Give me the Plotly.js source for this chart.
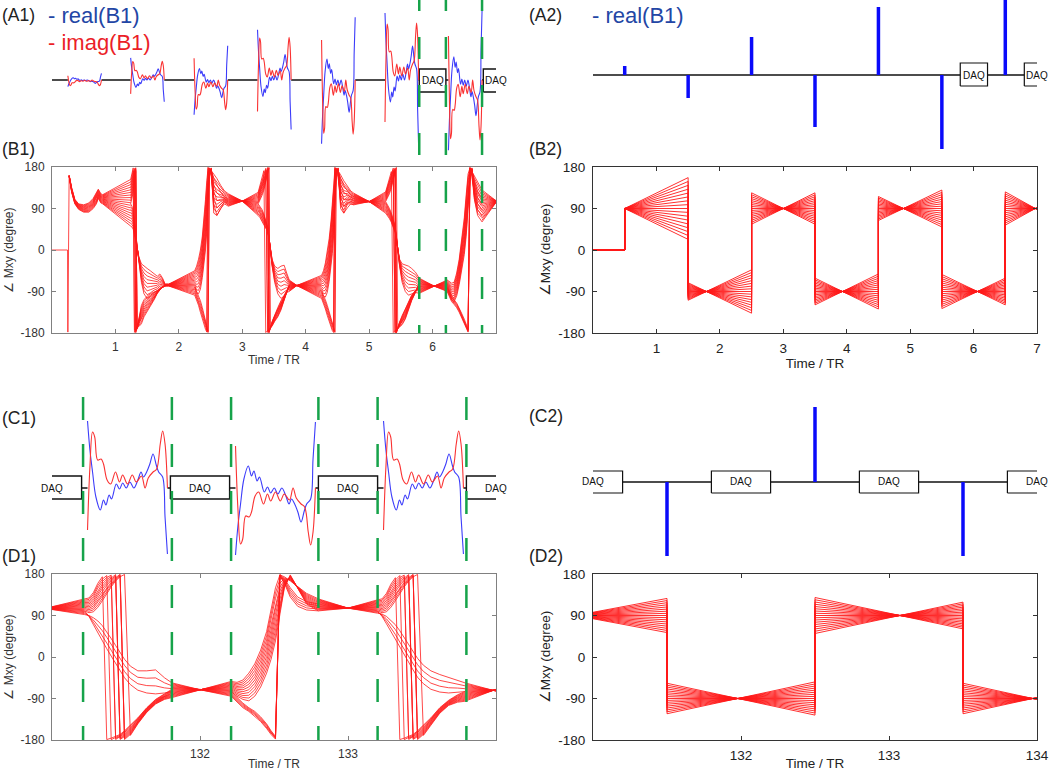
<!DOCTYPE html>
<html><head><meta charset="utf-8">
<script src="https://cdn.plot.ly/plotly-3.0.1.min.js"></script>
<style>html,body{margin:0;padding:0;background:#fff}#chart{width:1050px;height:771px}</style>
</head><body><div id="chart"></div><script>
// ===================== DATA =====================
// RF pulse shape (real / imag) read from the C1 pulse at 131.5 TR; u = fraction of pulse, v = amplitude
const tplBlueU = [0, 0.03, 0.063, 0.105, 0.16, 0.2, 0.23, 0.27, 0.30, 0.36, 0.40, 0.44, 0.485, 0.53, 0.58, 0.63, 0.67, 0.70, 0.74, 0.78, 0.82, 0.86, 0.89, 0.94, 0.97, 1.0];
const tplBlueV = [67, 38, 16, -9, -22, -12, -17, -7, -11, 4, -1, 5, 0, 6, 0, 8, 16, 11, 16, 24, 34, 23, 16, 11, -29, -66];
const tplRedU  = [0, 0.03, 0.063, 0.09, 0.127, 0.17, 0.2, 0.245, 0.29, 0.35, 0.40, 0.44, 0.5, 0.56, 0.61, 0.675, 0.72, 0.76, 0.82, 0.865, 0.91, 0.94, 0.97, 1.0];
const tplRedV  = [-42, 21, 56, 51, 28, 29, 24, 8, 4, 16, 6, 13, 4, 13, 6, 12, 0, 10, 16, 19, 44, 57, 44, 0];

// (A1) pulses
const a1PulseStart = [0.25, 1.24, 2.24, 3.24, 4.25, 5.25, 6.25];
const a1PulseWidth = 0.53;
const a1PulseAmp = [-0.1, 0.33, -0.52, 0.75, -0.95, 1.0, -1.05];
const a1DaqLeft = [5.79, 6.80];
const a1DaqRight = [6.21, 7.20];
const a1Dashes = [5.79, 6.21, 6.78];
// (A2) ideal pulses
const a2PulseTime = [0.5, 1.5, 2.5, 3.5, 4.5, 5.5, 6.5];
const a2PulseAmp = [9, -23, 38, -52, 68, -74, 85];
const a2DaqLeft = [5.79, 6.80];
const a2DaqRight = [6.22, 7.20];
// (C1) pulses
const c1PulseStart = [131.24, 132.24, 133.24];
const c1PulseWidth = 0.54;
const c1PulseAmp = [1, -1, 1];
const c1DaqLeft = [130.80, 131.80, 132.80, 133.80];
const c1DaqRight = [131.20, 132.20, 133.20, 134.20];
const c1Dashes = [131.21, 131.81, 132.21, 132.80, 133.20, 133.80];
// (C2) ideal pulses
const c2PulseTime = [131.5, 132.5, 133.5];
const c2PulseAmp = [-74, 75, -74];
const c2DaqLeft = [130.80, 131.80, 132.80, 133.80];
const c2DaqRight = [131.20, 132.20, 133.20, 134.20];

// isochromat offsets across each fan (-1 .. 1)
const fanK = [-1, -0.875, -0.75, -0.625, -0.5, -0.375, -0.25, -0.125, 0, 0.125, 0.25, 0.375, 0.5, 0.625, 0.75, 0.875, 1];

// (B2) ideal phase: segments between pulses
const b2Start  = [0.5, 1.5, 2.5, 3.5, 4.5, 5.5, 6.5];
const b2End    = [1.5, 2.5, 3.5, 4.5, 5.5, 6.5, 7.0];
const b2Center = [90, -90, 90, -90, 90, -90, 90];
const b2SpreadIn  = [0, 19, -34, 29, -26, 37, -36];
const b2SpreadOut = [67, -47, 34, -38, 40, -29, 2];
// (D2) ideal phase
const d2Start  = [131.0, 131.5, 132.5, 133.5];
const d2End    = [131.5, 132.5, 133.5, 134.0];
const d2Center = [90, -90, 90, -90];
const d2SpreadIn  = [7, 33, -39, 33];
const d2SpreadOut = [37, -36, 29, -2];

// (B1) simulated phase: bundles of lines between a low and a high envelope (unwrapped degrees)
const b1T0 = [0, 0.245, 0.25, 0.27];
const b1Lo0 = [0, 0, -178, -200];
const b1Hi0 = [0, 0, -178, -200];
const b1T1 = [0.27, 0.31, 0.36, 0.42, 0.50, 0.58, 0.65, 0.70, 0.73, 0.77, 0.80];
const b1Lo1 = [160, 125, 100, 88, 82, 82, 90, 100, 112, 102, 100];
const b1Hi1 = [162, 135, 110, 100, 98, 102, 112, 125, 132, 122, 120];
const b1T2 = [0.80, 1.24];
const b1Lo2 = [100, 52];
const b1Hi2 = [120, 153];
const b1T3 = [1.24, 1.26, 1.28, 1.30, 1.32, 1.34, 1.37, 1.41, 1.45, 1.50, 1.55, 1.61, 1.66, 1.70, 1.74, 1.79];
const b1Lo3 = [52, 50, 45, 35, 20, 5, -15, -30, -35, -40, -45, -52, -57, -52, -60, -76];
const b1Hi3 = [100, 95, 85, 65, 40, 10, -30, -70, -95, -105, -100, -92, -88, -82, -80, -78];
const b1Lo4 = [100, 110, 125, 145, 170, 190, 215, 240, 252, 260, 265, 268, 272, 276, 279, 282];
const b1Hi4 = [153, 165, 178, 186, 189, 191, 194, 200, 215, 226, 237, 252, 266, 274, 280, 284];
const b1T5 = [1.79, 1.84, 2.25];
const b1Lo5 = [-78, -78, -98];
const b1Hi5 = [-74, -74, -45];
const b1T6 = [2.25, 2.28, 2.31, 2.34, 2.37, 2.40, 2.42, 2.44, 2.46, 2.48, 2.51, 2.55, 2.60, 2.66, 2.72, 2.78];
const b1Lo6 = [-80, -92, -95, -85, -60, -30, 0, 40, 100, 165, 178, 80, 75, 90, 100, 95];
const b1Hi6 = [-45, -35, -20, 0, 30, 70, 110, 150, 176, 178, 172, 165, 155, 140, 128, 122];
const b1Lo7 = [-98, -108, -120, -135, -150, -165, -172, -178, -182, -186, -200, -260, -285, -270, -255, -262];
const b1Hi7 = [-80, -90, -100, -110, -125, -140, -152, -165, -176, -183, -190, -205, -220, -235, -245, -250];
const b1T8 = [2.78, 3.0, 3.25];
const b1Lo8 = [95, 106, 125];
const b1Hi8 = [122, 106, 75];
const b1T9 = [3.25, 3.28, 3.31, 3.34, 3.37, 3.40, 3.42, 3.44, 3.47, 3.51, 3.56, 3.61, 3.66, 3.70, 3.74];
const b1Lo9 = [100, 108, 118, 130, 145, 165, 178, 190, 205, 220, 235, 250, 262, 272, 278];
const b1Hi9 = [125, 140, 158, 172, 181, 186, 188, 190, 195, 205, 215, 230, 250, 268, 285];
const b1Lo10 = [75, 70, 62, 55, 48, 40, 25, 5, -20, -35, -40, -35, -33, -50, -65];
const b1Hi10 = [100, 95, 88, 78, 65, 50, 30, 5, -35, -70, -95, -105, -100, -92, -90];
const b1T11 = [3.74, 3.86, 4.25];
const b1Lo11 = [-90, -77, -105];
const b1Hi11 = [-65, -77, -55];
const b1T12 = [4.25, 4.28, 4.31, 4.34, 4.37, 4.40, 4.42, 4.44, 4.46, 4.48, 4.51, 4.55, 4.60, 4.66, 4.71, 4.76];
const b1Lo12 = [-90, -100, -102, -92, -68, -38, -8, 32, 92, 160, 178, 90, 80, 100, 100, 98];
const b1Hi12 = [-55, -45, -28, -5, 25, 65, 105, 148, 175, 178, 172, 163, 150, 138, 128, 123];
const b1Lo13 = [-105, -115, -128, -142, -156, -168, -175, -179, -184, -188, -202, -255, -280, -268, -260, -262];
const b1Hi13 = [-90, -98, -108, -120, -134, -148, -158, -168, -177, -183, -190, -205, -220, -232, -240, -245];
const b1T14 = [4.76, 5.0, 5.26];
const b1Lo14 = [98, 105, 126];
const b1Hi14 = [123, 105, 80];
const b1T15 = [5.26, 5.29, 5.32, 5.35, 5.38, 5.41, 5.43, 5.45, 5.48, 5.52, 5.57, 5.62, 5.67, 5.73, 5.79];
const b1Lo15 = [105, 112, 122, 135, 150, 168, 179, 192, 205, 218, 232, 248, 262, 272, 275];
const b1Hi15 = [126, 140, 156, 170, 181, 186, 188, 189, 192, 198, 210, 230, 250, 268, 290];
const b1Lo16 = [80, 75, 68, 60, 50, 38, 20, 0, -20, -30, -32, -35, -40, -48, -61];
const b1Hi16 = [105, 98, 90, 80, 68, 52, 30, 5, -35, -70, -90, -98, -95, -92, -94];
const b1T17 = [5.79, 6.02, 6.23];
const b1Lo17 = [-94, -78, -65];
const b1Hi17 = [-61, -78, -90];
const b1T18 = [6.23, 6.26, 6.30, 6.34, 6.38, 6.42, 6.46, 6.50, 6.53, 6.56, 6.59, 6.62, 6.66, 6.71, 6.78];
const b1Lo18 = [-82, -95, -108, -112, -100, -75, -45, -10, 30, 90, 150, 178, 110, 80, 70];
const b1Hi18 = [-65, -68, -72, -70, -50, -20, 20, 70, 120, 165, 178, 170, 160, 148, 130];
const b1Lo19 = [-90, -100, -112, -118, -125, -135, -148, -160, -170, -178, -183, -200, -250, -285, -299];
const b1Hi19 = [-82, -90, -100, -108, -115, -125, -138, -150, -162, -172, -181, -190, -210, -235, -250];
const b1T20 = [6.78, 7.0];
const b1Lo20 = [61, 103];
const b1Hi20 = [130, 107];
const b1Count = [1, 12, 19, 9, 10, 19, 11, 5, 19, 10, 9, 19, 11, 5, 19, 10, 9, 19, 11, 5, 19];

// (D1) simulated phase
const d1T0 = [131.0, 131.22];
const d1Lo0 = [103, 92];
const d1Hi0 = [109, 126];
const d1T1 = [131.22, 131.25, 131.28, 131.31, 131.34, 131.37, 131.40, 131.43, 131.46, 131.49, 131.53, 131.58, 131.64, 131.70, 131.76, 131.81];
const d1Lo1 = [100, 96, 98, 108, 122, 138, 152, 165, 174, 179, 190, 215, 240, 258, 268, 272];
const d1Hi1 = [126, 128, 140, 160, 174, 181, 184, 188, 192, 200, 212, 228, 250, 268, 280, 290];
const d1Lo2 = [92, 90, 85, 78, 68, 55, 40, 25, 10, -5, -20, -30, -30, -28, -45, -56];
const d1Hi2 = [100, 88, 70, 52, 35, 18, 2, -14, -30, -45, -60, -72, -78, -80, -78, -75];
const d1T3 = [131.81, 132.0, 132.21];
const d1Lo3 = [-88, -71, -53];
const d1Hi3 = [-56, -71, -85];
const d1T4 = [132.21, 132.25, 132.29, 132.33, 132.37, 132.41, 132.45, 132.48, 132.51, 132.54, 132.57, 132.61, 132.66, 132.72, 132.80];
const d1Lo4 = [-75, -85, -92, -95, -85, -65, -35, -5, 35, 90, 150, 178, 150, 115, 100];
const d1Hi4 = [-53, -55, -50, -35, -15, 15, 55, 100, 150, 178, 174, 165, 152, 138, 126];
const d1Lo5 = [-85, -98, -110, -118, -128, -140, -155, -168, -178, -185, -200, -230, -250, -258, -260];
const d1Hi5 = [-75, -88, -100, -110, -118, -130, -145, -160, -172, -181, -190, -210, -230, -240, -245];
const d1T6 = [132.80, 133.0, 133.2];
const d1Lo6 = [100, 106, 124];
const d1Hi6 = [126, 106, 95];
const d1T7 = [133.20, 133.23, 133.26, 133.29, 133.32, 133.35, 133.38, 133.41, 133.44, 133.47, 133.51, 133.56, 133.62, 133.68, 133.74, 133.79];
const d1Lo7 = [100, 96, 98, 108, 122, 138, 152, 165, 174, 179, 190, 212, 238, 255, 262, 264];
const d1Hi7 = [124, 126, 138, 158, 172, 181, 184, 188, 192, 200, 212, 228, 250, 266, 278, 285];
const d1Lo8 = [95, 93, 88, 80, 70, 57, 42, 27, 12, -3, -18, -30, -38, -44, -50, -56];
const d1Hi8 = [100, 88, 72, 55, 38, 20, 4, -12, -28, -44, -58, -70, -76, -78, -76, -75];
const d1T9 = [133.79, 134.0];
const d1Lo9 = [-96, -70];
const d1Hi9 = [-56, -74];
const d1Count = [17, 11, 4, 17, 11, 5, 17, 11, 4, 17];

const phaseTicks = [-180, -90, 0, 90, 180];
const b1XTicks = [1, 2, 3, 4, 5, 6];
const b2XTicks = [1, 2, 3, 4, 5, 6, 7];
const d1XTicks = [132, 133];
const d2XTicks = [132, 133, 134];

// ===================== BUILD =====================
const W = 1050, H = 771;
const FONT = '"Liberation Sans", Arial, Helvetica, sans-serif';
const RED = 'rgb(255,25,25)', WAVE_BLUE = 'rgb(60,60,250)', WAVE_RED = 'rgb(250,50,50)';
const BAR_BLUE = 'rgb(10,10,250)', GREEN = 'rgb(22,163,74)';
const px = p => p / W, py = p => 1 - p / H;

function wrap(v) { return ((v + 180) % 360 + 360) % 360 - 180; }

function bundles(groups) {
  const X = [], Y = [];
  groups.forEach(([t, lo, hi, n]) => {
    for (let j = 0; j < n; j++) {
      const f = n === 1 ? 0 : j / (n - 1);
      for (let i = 0; i < t.length; i++) { X.push(t[i]); Y.push(wrap(lo[i] + (hi[i] - lo[i]) * f)); }
      X.push(null); Y.push(null);
    }
  });
  return { X, Y };
}

function ideal(flatFrom, flatPhase, s, e, c, sIn, sOut) {
  const X = [], Y = [];
  fanK.forEach(k => {
    if (flatFrom !== null) { X.push(flatFrom, s[0]); Y.push(flatPhase, flatPhase); }
    for (let i = 0; i < s.length; i++) { X.push(s[i], e[i]); Y.push(c[i] + k * sIn[i], c[i] + k * sOut[i]); }
    X.push(null); Y.push(null);
  });
  return { X, Y };
}

function waves(starts, width, amps, u, v) {
  const X = [], Y = [];
  starts.forEach((s, p) => {
    for (let i = 0; i < u.length; i++) { X.push(s + u[i] * width); Y.push(v[i] * amps[p]); }
    X.push(null); Y.push(null);
  });
  return { X, Y };
}

function baseline(lo, hi, occ) {
  const X = [], Y = [];
  let cur = lo;
  occ.slice().sort((a, b) => a[0] - b[0]).forEach(([a, b]) => {
    if (a > cur) { X.push(cur, a, null); Y.push(0, 0, null); }
    cur = Math.max(cur, b);
  });
  if (cur < hi) { X.push(cur, hi); Y.push(0, 0); }
  return { X, Y };
}

function boxes(left, right, top, bot) {
  const X = [], Y = [];
  left.forEach((l, i) => {
    const r = right[i];
    X.push(l, l, r, r, l, null); Y.push(bot, top, top, bot, bot, null);
  });
  return { X, Y };
}

function bars(t, a) {
  const X = [], Y = [];
  t.forEach((ti, i) => { X.push(ti, ti, null); Y.push(0, a[i], null); });
  return { X, Y };
}

function lineTrace(d, xa, ya, color, width, shape) {
  return { type: 'scatter', mode: 'lines', x: d.X, y: d.Y, xaxis: xa, yaxis: ya,
    line: { color: color, width: width, shape: shape || 'linear' }, hoverinfo: 'skip', connectgaps: false };
}

const b1 = bundles([
  [b1T0, b1Lo0, b1Hi0, b1Count[0]], [b1T1, b1Lo1, b1Hi1, b1Count[1]], [b1T2, b1Lo2, b1Hi2, b1Count[2]],
  [b1T3, b1Lo3, b1Hi3, b1Count[3]], [b1T3, b1Lo4, b1Hi4, b1Count[4]], [b1T5, b1Lo5, b1Hi5, b1Count[5]],
  [b1T6, b1Lo6, b1Hi6, b1Count[6]], [b1T6, b1Lo7, b1Hi7, b1Count[7]], [b1T8, b1Lo8, b1Hi8, b1Count[8]],
  [b1T9, b1Lo9, b1Hi9, b1Count[9]], [b1T9, b1Lo10, b1Hi10, b1Count[10]], [b1T11, b1Lo11, b1Hi11, b1Count[11]],
  [b1T12, b1Lo12, b1Hi12, b1Count[12]], [b1T12, b1Lo13, b1Hi13, b1Count[13]], [b1T14, b1Lo14, b1Hi14, b1Count[14]],
  [b1T15, b1Lo15, b1Hi15, b1Count[15]], [b1T15, b1Lo16, b1Hi16, b1Count[16]], [b1T17, b1Lo17, b1Hi17, b1Count[17]],
  [b1T18, b1Lo18, b1Hi18, b1Count[18]], [b1T18, b1Lo19, b1Hi19, b1Count[19]], [b1T20, b1Lo20, b1Hi20, b1Count[20]]
]);
const d1 = bundles([
  [d1T0, d1Lo0, d1Hi0, d1Count[0]], [d1T1, d1Lo1, d1Hi1, d1Count[1]], [d1T1, d1Lo2, d1Hi2, d1Count[2]],
  [d1T3, d1Lo3, d1Hi3, d1Count[3]], [d1T4, d1Lo4, d1Hi4, d1Count[4]], [d1T4, d1Lo5, d1Hi5, d1Count[5]],
  [d1T6, d1Lo6, d1Hi6, d1Count[6]], [d1T7, d1Lo7, d1Hi7, d1Count[7]], [d1T7, d1Lo8, d1Hi8, d1Count[8]],
  [d1T9, d1Lo9, d1Hi9, d1Count[9]]
]);
const b2 = ideal(0, 0, b2Start, b2End, b2Center, b2SpreadIn, b2SpreadOut);
const d2 = ideal(null, 0, d2Start, d2End, d2Center, d2SpreadIn, d2SpreadOut);

const a1Occ = a1PulseStart.map(s => [s, s + a1PulseWidth]).concat(a1DaqLeft.map((l, i) => [l, a1DaqRight[i]]));
const c1Occ = c1PulseStart.map(s => [s, s + c1PulseWidth]).concat(c1DaqLeft.map((l, i) => [l, c1DaqRight[i]]));
const a2Occ = a2DaqLeft.map((l, i) => [l, a2DaqRight[i]]);
const c2Occ = c2DaqLeft.map((l, i) => [l, c2DaqRight[i]]);

const traces = [
  lineTrace(baseline(0, 7, a1Occ), 'x5', 'y5', '#111', 1.5),
  lineTrace(boxes(a1DaqLeft, a1DaqRight, 11, -12), 'x5', 'y5', '#111', 1.4),
  lineTrace(waves(a1PulseStart, a1PulseWidth, a1PulseAmp, tplBlueU, tplBlueV), 'x5', 'y5', WAVE_BLUE, 1.1, 'spline'),
  lineTrace(waves(a1PulseStart, a1PulseWidth, a1PulseAmp, tplRedU, tplRedV), 'x5', 'y5', WAVE_RED, 1.1, 'spline'),
  lineTrace(baseline(0, 7, a2Occ), 'x6', 'y6', '#111', 1.4),
  lineTrace(boxes(a2DaqLeft, a2DaqRight, 12, -11), 'x6', 'y6', '#111', 1.2),
  lineTrace(bars(a2PulseTime, a2PulseAmp), 'x6', 'y6', BAR_BLUE, 3.5),
  lineTrace(baseline(131, 134, c1Occ), 'x7', 'y7', '#111', 1.5),
  lineTrace(boxes(c1DaqLeft, c1DaqRight, 12, -11), 'x7', 'y7', '#111', 1.4),
  lineTrace(waves(c1PulseStart, c1PulseWidth, c1PulseAmp, tplBlueU, tplBlueV), 'x7', 'y7', WAVE_BLUE, 1.1, 'spline'),
  lineTrace(waves(c1PulseStart, c1PulseWidth, c1PulseAmp, tplRedU, tplRedV), 'x7', 'y7', WAVE_RED, 1.1, 'spline'),
  lineTrace(baseline(131, 134, c2Occ), 'x8', 'y8', '#111', 1.4),
  lineTrace(boxes(c2DaqLeft, c2DaqRight, 11, -11), 'x8', 'y8', '#111', 1.2),
  lineTrace(bars(c2PulseTime, c2PulseAmp), 'x8', 'y8', BAR_BLUE, 3.5),
  lineTrace(b1, 'x', 'y', RED, 0.8),
  lineTrace(b2, 'x2', 'y2', RED, 0.9),
  lineTrace(d1, 'x3', 'y3', RED, 0.8),
  lineTrace(d2, 'x4', 'y4', RED, 0.9)
];

const LEFT = [px(52), px(496)], RIGHT = [px(593), px(1037)];
const ROW_B = [py(333), py(167)], ROW_D = [py(740), py(574)];

function phaseX(domain, range, ticks, anchor, st) {
  return { domain: domain, range: range, anchor: anchor, tickmode: 'array', tickvals: ticks, ticktext: ticks.map(String),
    showline: true, mirror: 'ticks', linecolor: st.line, linewidth: 1, ticks: 'inside', ticklen: 4, tickcolor: st.line,
    tickfont: { size: st.fs, color: st.txt, family: FONT }, showgrid: false, zeroline: false, fixedrange: true,
    ticklabelstandoff: 3,
    title: { text: 'Time / TR', font: { size: st.fs, color: st.txt, family: FONT }, standoff: st.xstand } };
}
function phaseY(domain, anchor, st) {
  return { domain: domain, range: [-180, 180], anchor: anchor, tickmode: 'array', tickvals: phaseTicks, ticktext: phaseTicks.map(String),
    showline: true, mirror: 'ticks', linecolor: st.line, linewidth: 1, ticks: 'inside', ticklen: 4, tickcolor: st.line,
    tickfont: { size: st.fs, color: st.txt, family: FONT }, showgrid: false, zeroline: false, fixedrange: true,
    ticklabelstandoff: 4,
    title: { text: st.ytitle, font: { size: st.tfs, color: st.txt, family: FONT }, standoff: 4 } };
}
function hidden(domain, range, anchor) {
  return { domain: domain, range: range, anchor: anchor, visible: false, fixedrange: true };
}
const st1 = { line: '#808080', txt: '#333', fs: 12, tfs: 12, xstand: 2, ytitle: '\u2220 Mxy (degree)' };
const st2 = { line: '#333', txt: '#222', fs: 13.5, tfs: 13.5, xstand: 0, ytitle: '\u2220Mxy (degree)' };

const annotations = [];
function label(text, x, y, size, color) {
  annotations.push({ text: text, xref: 'paper', yref: 'paper', x: px(x), y: py(y), xanchor: 'left', yanchor: 'middle',
    showarrow: false, font: { size: size, color: color, family: FONT } });
}
label('(A1)', 0, 15, 17.5, '#222'); label('(B1)', 0, 149, 17.5, '#222');
label('(A2)', 527, 15, 17.5, '#222'); label('(B2)', 527, 149, 17.5, '#222');
label('(C1)', 0, 418, 17.5, '#222'); label('(D1)', 0, 556, 17.5, '#222');
label('(C2)', 527, 416, 17.5, '#222'); label('(D2)', 527, 556, 17.5, '#222');
label('- real(B1)', 46, 15, 22, 'rgb(35,70,165)');
label('- imag(B1)', 46, 42, 22, 'rgb(235,30,40)');
label('- real(B1)', 590, 15, 22, 'rgb(35,70,165)');

function daqText(left, right, xa, ya) {
  left.forEach((l, i) => annotations.push({ text: 'DAQ', xref: xa, yref: ya, x: (l + right[i]) / 2, y: 0,
    xanchor: 'center', yanchor: 'middle', showarrow: false, font: { size: 10, color: '#111', family: FONT } }));
}
daqText(a1DaqLeft, a1DaqRight, 'x5', 'y5');
daqText(a2DaqLeft, a2DaqRight, 'x6', 'y6');
daqText(c1DaqLeft, c1DaqRight, 'x7', 'y7');
daqText(c2DaqLeft, c2DaqRight, 'x8', 'y8');

const shapes = [];
a1Dashes.forEach(t => shapes.push({ type: 'line', xref: 'x', yref: 'paper', x0: t, x1: t, y0: py(-11), y1: py(333),
  line: { color: GREEN, width: 2.5, dash: '22px,26px' }, layer: 'above' }));
c1Dashes.forEach(t => shapes.push({ type: 'line', xref: 'x3', yref: 'paper', x0: t, x1: t, y0: py(397), y1: py(740),
  line: { color: GREEN, width: 2.5, dash: '23px,24px' }, layer: 'above' }));

const layout = {
  width: W, height: H, margin: { l: 0, r: 0, t: 0, b: 0 }, paper_bgcolor: '#fff', plot_bgcolor: 'rgba(0,0,0,0)',
  showlegend: false, font: { family: FONT, color: '#333' },
  xaxis: phaseX(LEFT, [0, 7], b1XTicks, 'y', st1), yaxis: phaseY(ROW_B, 'x', st1),
  xaxis2: phaseX(RIGHT, [0, 7], b2XTicks, 'y2', st2), yaxis2: phaseY(ROW_B, 'x2', st2),
  xaxis3: phaseX(LEFT, [131, 134], d1XTicks, 'y3', st1), yaxis3: phaseY(ROW_D, 'x3', st1),
  xaxis4: phaseX(RIGHT, [131, 134], d2XTicks, 'y4', st2), yaxis4: phaseY(ROW_D, 'x4', st2),
  xaxis5: hidden(LEFT, [0, 7], 'y5'), yaxis5: hidden([py(160), 1], [-80, 80], 'x5'),
  xaxis6: hidden(RIGHT, [0, 7], 'y6'), yaxis6: hidden([py(150), 1], [-75, 75], 'x6'),
  xaxis7: hidden(LEFT, [131, 134], 'y7'), yaxis7: hidden([py(576), py(400)], [-88, 88], 'x7'),
  xaxis8: hidden(RIGHT, [131, 134], 'y8'), yaxis8: hidden([py(570), py(394)], [-88, 88], 'x8'),
  annotations: annotations, shapes: shapes
};

Plotly.newPlot('chart', traces, layout, { staticPlot: true, displayModeBar: false });
</script></body></html>
